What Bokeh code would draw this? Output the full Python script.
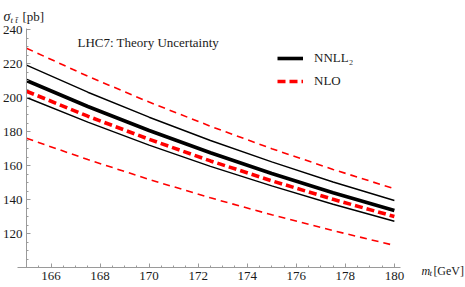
from bokeh.plotting import figure
from bokeh.models import Range1d, FixedTicker, Label, Legend, LegendItem
from bokeh.embed import file_html
from bokeh.resources import INLINE

# ---- data ----
mt = [165.0, 167.5, 170.0, 172.5, 175.0, 177.5, 180.0]
nnll_central = [210.0, 194.7, 180.6, 167.5, 155.3, 144.0, 133.5]
nnll_upper = [219.0, 203.1, 188.4, 174.7, 162.1, 150.3, 139.4]
nnll_lower = [200.0, 185.5, 172.0, 159.5, 148.0, 137.2, 127.2]
nlo_central = [203.7, 189.0, 175.4, 162.7, 151.0, 140.1, 130.0]
nlo_upper = [229.0, 212.5, 197.3, 183.1, 169.9, 157.7, 146.3]
nlo_lower = [176.0, 163.5, 151.8, 141.0, 131.0, 121.7, 113.0]

x_major_ticks = [166, 168, 170, 172, 174, 176, 178, 180]
x_minor_ticks = [165.0, 165.5, 166.0, 166.5, 167.0, 167.5, 168.0, 168.5, 169.0, 169.5,
                 170.0, 170.5, 171.0, 171.5, 172.0, 172.5, 173.0, 173.5, 174.0, 174.5,
                 175.0, 175.5, 176.0, 176.5, 177.0, 177.5, 178.0, 178.5, 179.0, 179.5, 180.0]
y_major_ticks = [120, 140, 160, 180, 200, 220, 240]
y_minor_ticks = [100, 105, 110, 115, 120, 125, 130, 135, 140, 145, 150, 155, 160, 165,
                 170, 175, 180, 185, 190, 195, 200, 205, 210, 215, 220, 225, 230, 235, 240]

title_text = "LHC7: Theory Uncertainty"
legend_labels = ["NNLL\u2082", "NLO"]

FONT = "Liberation Serif"
AXIS_GRAY = "#9a9a9a"
TXT = "#1a1a1a"

X0, X1 = 165.0, 180.0      # axis anchors
Y0, Y1 = 100.0, 240.0

p = figure(width=465, height=287,
           x_range=Range1d(163.94, 182.9), y_range=Range1d(88.24, 257.06),
           output_backend="svg", toolbar_location=None,
           min_border_left=0, min_border_right=0,
           min_border_top=0, min_border_bottom=0)
p.grid.visible = False
p.outline_line_color = None
p.background_fill_color = "white"
p.border_fill_color = "white"

p.xaxis.fixed_location = Y0
p.yaxis.fixed_location = X0
p.xaxis.bounds = (164.65, 180.25)
p.yaxis.bounds = (Y0, 240.5)
p.xaxis.ticker = FixedTicker(ticks=x_major_ticks, minor_ticks=x_minor_ticks)
p.yaxis.ticker = FixedTicker(ticks=y_major_ticks, minor_ticks=y_minor_ticks)
for ax in (p.xaxis, p.yaxis):
    ax.axis_line_color = AXIS_GRAY
    ax.major_tick_line_color = AXIS_GRAY
    ax.minor_tick_line_color = AXIS_GRAY
    ax.major_tick_in = 4
    ax.major_tick_out = 0
    ax.minor_tick_in = 2
    ax.minor_tick_out = 0
    ax.major_label_text_font = FONT
    ax.major_label_text_font_size = "13px"
    ax.major_label_text_color = TXT
    ax.major_label_standoff = 4

# curves
p.line(mt, nlo_upper, line_color="red", line_width=1.6, line_dash="7 5")
p.line(mt, nlo_lower, line_color="red", line_width=1.6, line_dash="7 5")
p.line(mt, nnll_upper, line_color="black", line_width=1.4)
p.line(mt, nnll_lower, line_color="black", line_width=1.4)
r_nnll = p.line(mt, nnll_central, line_color="black", line_width=3.6)
r_nlo = p.line(mt, nlo_central, line_color="red", line_width=3.6, line_dash="8 4")

legend = Legend(items=[LegendItem(label=legend_labels[0], renderers=[r_nnll]),
                       LegendItem(label=legend_labels[1], renderers=[r_nlo])],
                location=(277, 196), padding=0, margin=0, spacing=3,
                glyph_width=26, glyph_height=20, label_height=20,
                label_standoff=11, label_text_font=FONT, label_text_font_size="13px",
                label_text_color=TXT,
                border_line_color=None, background_fill_alpha=0)
p.add_layout(legend)

# title inside plot
p.add_layout(Label(x=X0, y=Y1, x_offset=51, y_offset=-13, text=title_text,
                   text_font=FONT, text_font_size="13px", text_color=TXT,
                   text_baseline="alphabetic"))

# y-axis label: sigma_{t tbar} [pb]
p.add_layout(Label(x=X0, y=Y1, x_offset=-23, y_offset=13, text="\u03c3",
                   text_font=FONT, text_font_style="italic", text_font_size="14px",
                   text_color=TXT, text_baseline="alphabetic"))
p.add_layout(Label(x=X0, y=Y1, x_offset=-16, y_offset=10, text="t t\u0304",
                   text_font=FONT, text_font_style="italic", text_font_size="9px",
                   text_color=TXT, text_baseline="alphabetic"))
p.add_layout(Label(x=X0, y=Y1, x_offset=-4, y_offset=13, text="[pb]",
                   text_font=FONT, text_font_size="13px",
                   text_color=TXT, text_baseline="alphabetic"))

# x-axis label: m_t [GeV]
p.add_layout(Label(x=X1, y=Y0, x_offset=27, y_offset=-3, text="m",
                   text_font=FONT, text_font_style="italic", text_font_size="12px",
                   text_color=TXT, text_baseline="alphabetic"))
p.add_layout(Label(x=X1, y=Y0, x_offset=35, y_offset=-5, text="t",
                   text_font=FONT, text_font_style="italic", text_font_size="9px",
                   text_color=TXT, text_baseline="alphabetic"))
p.add_layout(Label(x=X1, y=Y0, x_offset=39, y_offset=-3, text="[GeV]",
                   text_font=FONT, text_font_size="12px",
                   text_color=TXT, text_baseline="alphabetic"))

open("out.html", "w").write(file_html(p, INLINE))
